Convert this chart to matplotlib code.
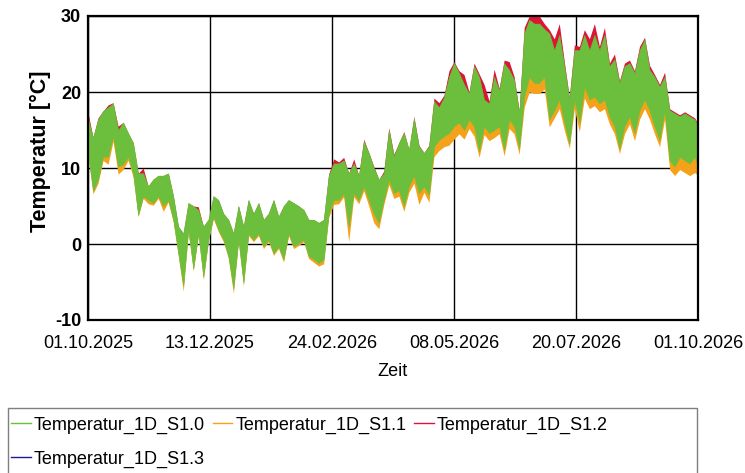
import numpy as np
import pandas as pd
import matplotlib
matplotlib.use("Agg")
import matplotlib.pyplot as plt
import matplotlib.dates as mdates
from matplotlib.patches import Rectangle

plt.rcParams['font.family'] = ['Liberation Sans', 'DejaVu Sans']
plt.rcParams['axes.unicode_minus'] = False

# ---- data (3-day steps) ----
start = pd.Timestamp("2025-10-01")
day_offsets = list(range(0, 364, 3)) + [365]

s10_hi = [16.5, 14.0, 16.4, 17.5, 18.0, 18.5, 15.0, 16.0, 14.6, 13.3,
          9.3, 9.3, 7.6, 8.5, 9.0, 9.0, 9.3, 6.3, 2.3, 1.4,
          5.4, 5.0, 4.5, 2.3, 3.2, 6.3, 5.8, 4.0, 3.2, 1.4,
          5.0, 2.3, 5.8, 4.0, 5.4, 3.2, 4.0, 5.8, 3.6, 5.0,
          5.8, 5.4, 5.0, 4.5, 3.2, 3.2, 2.8, 3.2, 9.0, 10.6,
          10.6, 11.0, 9.3, 10.6, 9.0, 13.5, 12.0, 10.0, 8.5, 9.3,
          15.0, 11.5, 13.3, 14.6, 12.4, 16.5, 12.8, 12.0, 12.8, 18.8,
          18.0, 19.3, 22.0, 23.8, 22.5, 21.0, 19.8, 23.4, 22.0, 19.0,
          18.5, 22.0, 20.2, 23.8, 22.9, 21.6, 17.2, 27.7, 29.5, 29.0,
          29.0, 28.3, 27.7, 25.5, 27.5, 23.4, 19.0, 25.5, 25.5, 27.5,
          25.5, 27.5, 25.5, 27.5, 23.4, 24.3, 21.2, 23.4, 23.8, 22.5,
          25.5, 26.9, 22.9, 22.0, 20.7, 22.0, 17.6, 17.2, 16.8, 17.2,
          16.8, 16.4, 15.5]
s10_lo = [12.0, 7.0, 8.5, 11.5, 11.5, 14.2, 10.2, 10.5, 11.5, 9.3,
          3.8, 6.3, 5.8, 5.4, 6.3, 5.0, 5.8, 3.2, -1.2, -5.5,
          1.9, -3.2, 1.4, -4.3, 0.6, 3.6, 1.9, 0.6, -1.6, -5.8,
          0.6, -5.1, 1.4, 0.6, 1.4, -0.3, 0.6, -1.2, -0.3, -2.0,
          1.4, -0.3, 0.1, 0.6, -1.6, -2.0, -2.5, -2.0, 4.0, 5.8,
          5.8, 6.7, 2.3, 6.7, 5.8, 7.6, 5.8, 4.0, 2.8, 5.8,
          8.5, 6.7, 7.1, 5.0, 7.6, 9.0, 6.7, 7.6, 6.5, 12.8,
          13.7, 14.2, 14.6, 15.5, 16.0, 15.0, 16.4, 15.5, 12.2, 15.5,
          14.6, 15.0, 15.5, 12.4, 16.4, 15.5, 12.6, 19.4, 22.0, 21.2,
          21.2, 22.0, 16.4, 17.6, 19.0, 16.0, 13.2, 19.0, 16.0, 20.7,
          19.0, 19.4, 18.5, 19.0, 16.8, 15.5, 12.6, 15.5, 16.8, 14.6,
          17.6, 19.0, 17.6, 15.5, 13.7, 17.6, 11.0, 10.2, 11.5, 11.0,
          10.6, 11.5, 10.2]
s11_hi = [15.5, 13.0, 15.4, 16.5, 17.0, 17.5, 14.0, 15.0, 13.6, 12.3,
          8.3, 8.3, 6.6, 7.5, 8.0, 8.0, 8.3, 5.3, 1.3, 0.4,
          4.4, 4.0, 3.5, 1.3, 2.2, 5.3, 4.8, 3.0, 2.2, 0.4,
          4.0, 1.3, 4.8, 3.0, 4.4, 2.2, 3.0, 4.8, 2.6, 4.0,
          4.8, 4.4, 4.0, 3.5, 2.2, 2.2, 1.8, 2.2, 8.0, 9.6,
          9.6, 10.0, 8.3, 9.6, 8.0, 12.5, 11.0, 9.0, 7.5, 8.3,
          14.0, 10.5, 12.3, 13.6, 11.4, 15.5, 11.8, 11.0, 11.8, 17.8,
          17.0, 18.3, 21.0, 22.8, 21.5, 20.0, 18.8, 22.4, 21.0, 18.0,
          17.5, 21.0, 19.2, 22.8, 21.9, 20.6, 16.2, 26.7, 28.5, 28.0,
          28.0, 27.3, 26.7, 24.5, 26.5, 22.4, 18.0, 24.5, 24.5, 26.5,
          24.5, 26.5, 24.5, 26.5, 22.4, 23.3, 20.2, 22.4, 22.8, 21.5,
          24.5, 25.9, 21.9, 21.0, 19.7, 21.0, 16.6, 16.2, 15.8, 16.2,
          15.8, 15.4, 14.5]
s11_lo = [11.6, 6.6, 8.0, 11.0, 10.5, 13.5, 9.2, 9.8, 11.0, 8.8,
          3.6, 6.0, 5.3, 5.1, 6.0, 4.3, 5.5, 2.9, -1.5, -6.2,
          1.6, -3.6, 1.1, -4.7, 0.4, 3.3, 1.6, 0.3, -1.9, -6.5,
          0.3, -5.5, 1.1, 0.3, 1.1, -0.6, 0.3, -1.5, -0.6, -2.4,
          1.1, -0.6, -0.2, 0.3, -1.9, -2.4, -2.9, -2.6, 3.5, 5.2,
          5.3, 6.2, 0.3, 6.2, 5.3, 7.0, 5.0, 2.8, 2.0, 5.2,
          7.8, 6.0, 6.3, 4.3, 6.8, 8.0, 5.2, 6.8, 5.5, 11.5,
          12.3, 12.8, 13.0, 13.8, 14.5, 13.8, 15.2, 14.2, 11.4, 14.4,
          13.6, 14.0, 14.5, 11.6, 15.2, 14.5, 11.8, 18.0, 20.0, 19.8,
          19.8, 20.4, 15.4, 16.6, 17.8, 15.0, 12.6, 17.8, 14.8, 19.2,
          17.8, 18.2, 17.4, 17.8, 15.8, 14.5, 11.9, 14.5, 15.8, 13.6,
          16.4, 17.8, 16.4, 14.5, 12.8, 16.4, 9.8, 9.0, 9.8, 9.4,
          9.0, 9.4, 9.0]
s12_hi = [17.3, 14.0, 16.6, 17.5, 18.3, 18.6, 15.5, 16.0, 14.6, 13.3,
          9.3, 10.0, 7.6, 8.5, 9.0, 9.0, 9.3, 6.3, 2.3, 1.4,
          5.4, 5.0, 4.9, 2.3, 3.2, 6.3, 5.8, 4.0, 3.2, 1.4,
          5.0, 2.3, 5.8, 4.0, 5.4, 3.2, 4.0, 5.8, 3.6, 5.0,
          5.8, 5.4, 5.0, 4.5, 3.2, 3.2, 2.8, 3.2, 9.2, 11.2,
          10.8, 11.4, 9.3, 11.2, 9.0, 13.8, 12.0, 10.2, 8.5, 9.6,
          15.3, 11.8, 13.3, 14.8, 12.4, 16.8, 13.0, 12.0, 13.0, 19.2,
          18.6, 19.6, 22.8, 24.0, 22.8, 22.3, 20.0, 23.8, 22.4, 21.0,
          18.8, 23.0, 20.5, 24.2, 24.0, 22.0, 17.5, 28.5, 30.0, 30.0,
          30.0, 29.0, 28.2, 27.0, 29.0, 24.0, 19.3, 26.2, 26.0, 28.2,
          27.0, 29.0, 26.0, 28.5, 23.8, 25.0, 21.5, 23.8, 24.2, 22.8,
          26.0, 27.2, 23.5, 22.3, 21.0, 22.6, 17.8, 17.4, 17.0, 17.4,
          17.0, 16.6, 15.8]
s12_lo = [13.0, 8.0, 9.5, 12.5, 12.5, 15.2, 11.2, 11.5, 12.5, 10.3,
          4.8, 7.3, 6.8, 6.4, 7.3, 6.0, 6.8, 4.2, -0.2, -4.5,
          2.9, -2.2, 2.4, -3.3, 1.6, 4.6, 2.9, 1.6, -0.6, -4.8,
          1.6, -4.1, 2.4, 1.6, 2.4, 0.7, 1.6, -0.2, 0.7, -1.0,
          2.4, 0.7, 1.1, 1.6, -0.6, -1.0, -1.5, -1.0, 5.0, 6.8,
          6.8, 7.7, 3.3, 7.7, 6.8, 8.6, 6.8, 5.0, 3.8, 6.8,
          9.5, 7.7, 8.1, 6.0, 8.6, 10.0, 7.7, 8.6, 7.5, 13.8,
          14.7, 15.2, 15.6, 16.5, 17.0, 16.0, 17.4, 16.5, 13.2, 16.5,
          15.6, 16.0, 16.5, 13.4, 17.4, 16.5, 13.6, 20.4, 23.0, 22.2,
          22.2, 23.0, 17.4, 18.6, 20.0, 17.0, 14.2, 20.0, 17.0, 21.7,
          20.0, 20.4, 19.5, 20.0, 17.8, 16.5, 13.6, 16.5, 17.8, 15.6,
          18.6, 20.0, 18.6, 16.5, 14.7, 18.6, 12.0, 11.2, 12.5, 12.0,
          11.6, 12.5, 11.2]
s13 = []  # S1.3 not visible in the chart

labels = ["Temperatur_1D_S1.0", "Temperatur_1D_S1.1",
          "Temperatur_1D_S1.2", "Temperatur_1D_S1.3"]
tick_dates = ["2025-10-01", "2025-12-13", "2026-02-24",
              "2026-05-08", "2026-07-20", "2026-10-01"]
y_ticks = [-10, 0, 10, 20, 30]

# ---- drawing ----
c_green = "#6cbf3c"
c_orange = "#f5a21b"
c_red = "#dc1438"
c_blue = "#1c1c8a"

dates = [start + pd.Timedelta(days=d) for d in day_offsets]

fig = plt.figure(figsize=(7.45, 4.73), dpi=100)
ax = fig.add_axes([88/745, 1-320/473, 610/745, 304/473])

ax.fill_between(dates, s12_lo, s12_hi, color=c_red, lw=0, zorder=2)
ax.fill_between(dates, s11_lo, s11_hi, color=c_orange, lw=0, zorder=3)
ax.fill_between(dates, s10_lo, s10_hi, color=c_green, lw=0.4, zorder=4)

h0, = ax.plot([], [], color=c_green, lw=1)
h1, = ax.plot([], [], color=c_orange, lw=1)
h2, = ax.plot([], [], color=c_red, lw=1)
h3, = ax.plot(s13, s13, color=c_blue, lw=1)

ax.set_xlim(pd.Timestamp(tick_dates[0]), pd.Timestamp(tick_dates[-1]))
ax.set_ylim(-10, 30)
ax.set_xticks([pd.Timestamp(t) for t in tick_dates])
ax.xaxis.set_major_formatter(mdates.DateFormatter("%d.%m.%Y"))
ax.set_yticks(y_ticks)
ax.tick_params(axis='both', length=0)
ax.tick_params(axis='x', pad=11, labelsize=13)
ax.tick_params(axis='y', pad=5, labelsize=13)
for lab in ax.get_yticklabels():
    lab.set_fontweight('bold')

ax.grid(True, color='black', lw=1.0, zorder=1)
ax.set_axisbelow(True)
for sp in ax.spines.values():
    sp.set_linewidth(1.6)
    sp.set_color('black')
    sp.set_zorder(6)

fig.text(40/745, 1-151/473, "Temperatur [°C]", rotation=90, ha='center',
         va='center', fontsize=15.5, fontweight='bold')
fig.text(393/745, 1-371/473, "Zeit", ha='center', va='center', fontsize=13)

# legend box
fig.patches.append(Rectangle((8/745, -0.05), 689/745, 0.05 + 1-408/473,
                             transform=fig.transFigure, fill=False,
                             edgecolor='#7f7f7f', lw=1.0))
leg = fig.legend([h0, h3, h1, h2],
                 [labels[0], labels[3], labels[1], labels[2]],
                 ncol=3, loc='upper left',
                 bbox_to_anchor=(9/745, 1-415/473), frameon=False,
                 fontsize=13, handlelength=1.1, handletextpad=0.15,
                 columnspacing=0.45, labelspacing=0.92, borderaxespad=0,
                 borderpad=0.1)

fig.savefig("out.png", dpi=100)
